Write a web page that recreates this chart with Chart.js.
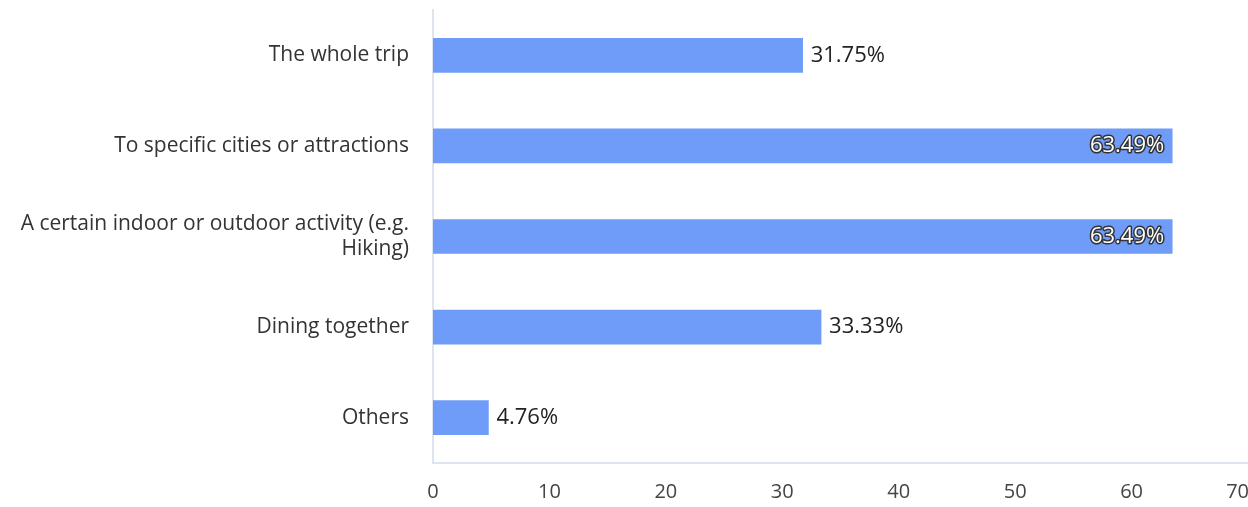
<!DOCTYPE html>
<html>
<head>
<meta charset="utf-8">
<script src="https://cdn.jsdelivr.net/npm/chart.js@4"></script>
<style>
  html, body { margin: 0; padding: 0; background: #fff; overflow: hidden; }
  #wrap { width: 1258px; height: 507px; }
</style>
</head>
<body>
<div id="wrap"><canvas id="chart"></canvas></div>
<script>
// categories and values
const categories = [
    'The whole trip',
    'To specific cities or attractions',
    ['A certain indoor or outdoor activity (e.g.', 'Hiking)'],
    'Dining together',
    'Others'
];
const shares = [31.75, 63.49, 63.49, 33.33, 4.76];
const xTicks = [0, 10, 20, 30, 40, 50, 60, 70];

const FONT = '"Open Sans", "Noto Sans", sans-serif';

// value labels: outside the bar, or inside with outline when no room
const valueLabels = {
    id: 'valueLabels',
    afterDatasetsDraw(chart) {
        const ctx = chart.ctx;
        const meta = chart.getDatasetMeta(0);
        ctx.save();
        ctx.font = '22px ' + FONT;
        ctx.textBaseline = 'middle';
        meta.data.forEach((bar, i) => {
            const txt = shares[i].toFixed(2) + '%';
            const w = ctx.measureText(txt).width;
            if (bar.x + 8 + w > chart.chartArea.right - 40) {
                ctx.textAlign = 'right';
                ctx.lineWidth = 3;
                ctx.strokeStyle = '#333';
                ctx.lineJoin = 'round';
                ctx.strokeText(txt, bar.x - 8, bar.y);
                ctx.fillStyle = '#fff';
                ctx.fillText(txt, bar.x - 8, bar.y);
            } else {
                ctx.textAlign = 'left';
                ctx.fillStyle = '#222';
                ctx.fillText(txt, bar.x + 8, bar.y);
            }
        });
        ctx.restore();
    }
};

var ctx = document.getElementById('chart').getContext('2d');
var myChart = new Chart(ctx, {
    type: 'bar',
    data: {
        labels: categories,
        datasets: [{
            data: shares,
            backgroundColor: '#6f9cf8',
            barThickness: 34
        }]
    },
    options: {
        indexAxis: 'y',
        responsive: true,
        maintainAspectRatio: false,
        animation: false,
        layout: { padding: { top: 10, left: 0, right: 0, bottom: 0 } },
        plugins: {
            legend: { display: false },
            tooltip: { enabled: false }
        },
        scales: {
            x: {
                min: 0,
                max: 70,
                afterBuildTicks(scale) {
                    scale.ticks = xTicks.map(v => ({ value: v }));
                },
                afterFit(scale) {
                    scale.height = 44;
                    scale.paddingLeft = 0;
                    scale.paddingRight = 10;
                },
                grid: { display: false, drawTicks: false },
                border: { color: '#dfe5f0', width: 2 },
                ticks: {
                    padding: 17,
                    color: '#444',
                    font: { family: FONT, size: 20 },
                    // last label sits at the window edge, nudge it left a bit
                    callback: (v) => v === 70 ? '70    ' : String(v)
                }
            },
            y: {
                afterFit(scale) {
                    scale.width = 433;
                    scale.paddingTop = 0;
                    scale.paddingBottom = 0;
                },
                grid: { display: false, drawTicks: false },
                border: { color: '#dfe5f0', width: 2 },
                ticks: {
                    padding: 24,
                    color: '#333',
                    font: { family: FONT, size: 21, lineHeight: 1.15 }
                }
            }
        }
    },
    plugins: [valueLabels]
});
</script>
</body>
</html>
